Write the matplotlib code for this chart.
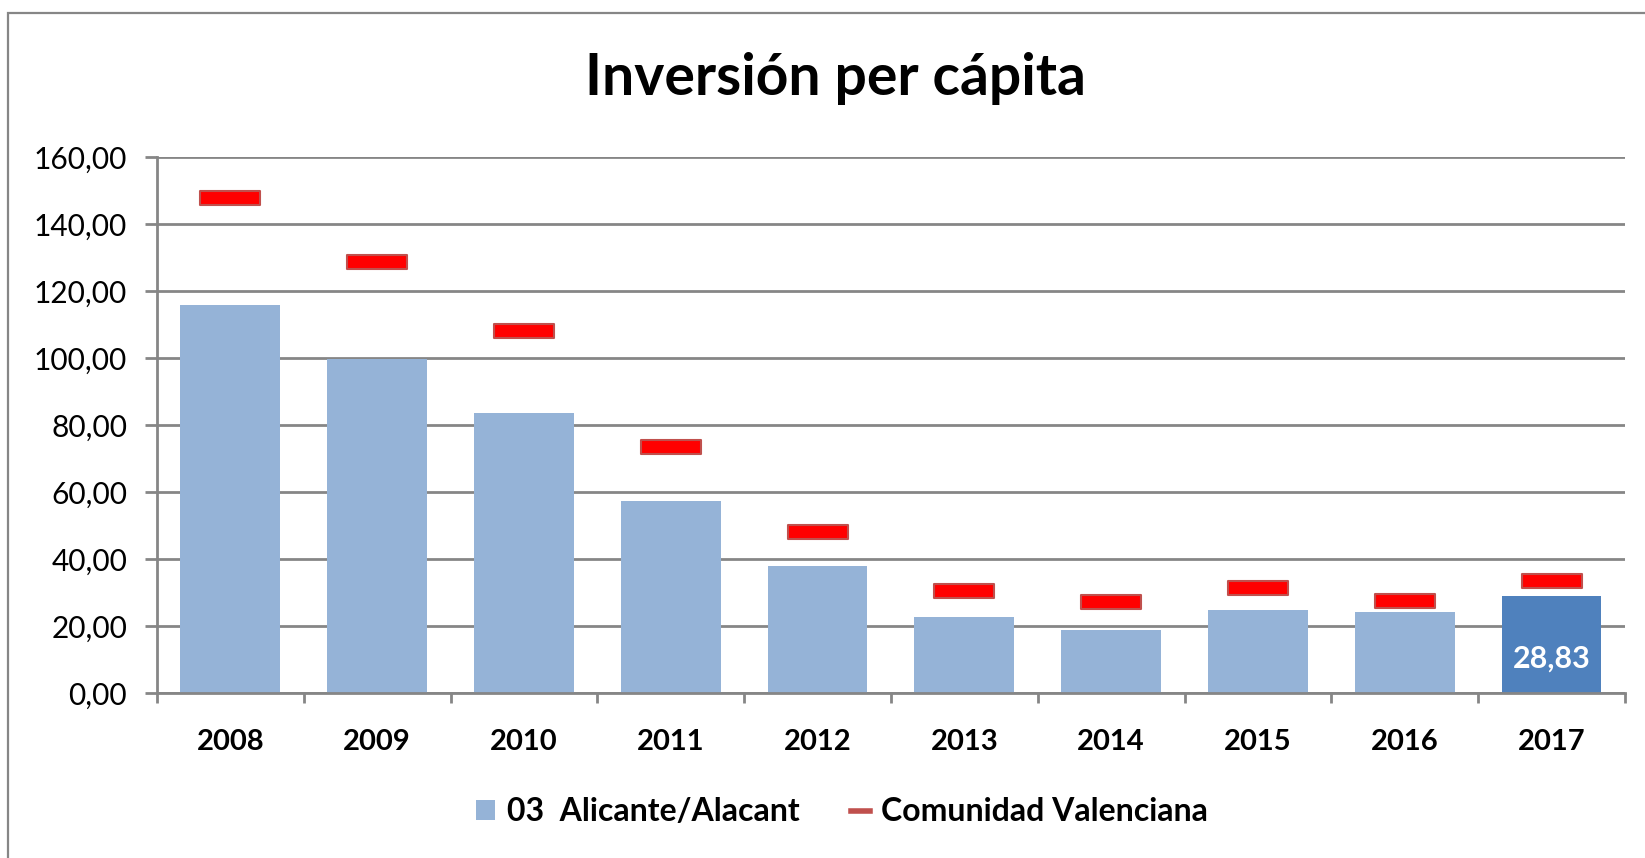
import matplotlib
matplotlib.use('Agg')
from matplotlib import pyplot as plt
from matplotlib.patches import Rectangle
from matplotlib.lines import Line2D
from matplotlib.path import Path

plt.rcParams['font.family'] = ['Lato', 'DejaVu Sans']

# Data
years = ['2008', '2009', '2010', '2011', '2012', '2013', '2014', '2015', '2016', '2017']
alicante = [115.7, 99.6, 83.5, 57.3, 38.0, 22.6, 18.8, 24.9, 24.1, 28.83]
comunidad = [147.9, 128.8, 108.1, 73.5, 48.2, 30.5, 27.3, 31.2, 27.4, 33.5]
yticks = [0, 20, 40, 60, 80, 100, 120, 140, 160]

grey = '#868686'
light_blue = '#95B3D7'
dark_blue = '#4F81BD'

fig = plt.figure(figsize=(16.45, 8.58), dpi=100)
ax = fig.add_axes([0.0954, 0.1923, 0.8924, 0.6247])

# outer chart frame (only left and top edges visible in the reference)
fig.patches.append(Rectangle((0.0049, -0.2), 1.5, 1.185, transform=fig.transFigure,
                             fill=False, edgecolor=grey, linewidth=1.6))

x = list(range(len(years)))
colors = [light_blue] * (len(years) - 1) + [dark_blue]
ax.bar(x, alicante, width=0.68, color=colors, zorder=3)

# red dash markers for the regional average
dash = Path([(-1, -0.23), (1, -0.23), (1, 0.23), (-1, 0.23), (-1, -0.23)],
            [Path.MOVETO, Path.LINETO, Path.LINETO, Path.LINETO, Path.CLOSEPOLY])
ax.plot(x, comunidad, linestyle='none', marker=dash, markersize=43,
        markerfacecolor='#FF0000', markeredgecolor='#C0504D', markeredgewidth=1.5,
        zorder=4)

# value label on the last bar
ax.annotate('28,83', xy=(x[-1], alicante[-1]), xytext=(0, -45), textcoords='offset points',
            ha='center', va='center', color='white', fontsize=22, fontweight='bold', zorder=5)

ax.set_xlim(-0.5, len(years) - 0.5)
ax.set_ylim(0, 160)
ax.set_yticks(yticks)
ax.set_yticklabels(['{:.2f}'.format(v).replace('.', ',') for v in yticks], fontsize=21.5)
ax.set_xticks(x)
ax.set_xticklabels(years, fontsize=21, fontweight='bold')
ax.set_xticks([i - 0.5 for i in range(len(years) + 1)], minor=True)
ax.tick_params(axis='x', which='major', length=0, pad=26)
ax.tick_params(axis='x', which='minor', length=7, width=2, color=grey)
ax.tick_params(axis='y', length=8.5, width=2, color=grey, pad=13)

ax.grid(axis='y', color=grey, linewidth=2, zorder=0)
ax.set_axisbelow(True)
for side in ['top', 'right']:
    ax.spines[side].set_visible(False)
for side in ['left', 'bottom']:
    ax.spines[side].set_color(grey)
    ax.spines[side].set_linewidth(2)
    ax.spines[side].set_zorder(5)

fig.text(0.5076, 0.908, 'Inversión per cápita', ha='center', va='center',
         fontsize=41, fontweight='bold')

handles = [Rectangle((0, 0), 1, 1, facecolor=light_blue),
           Line2D([0], [0], color='#C0504D', linewidth=4)]
leg = fig.legend(handles, ['03  Alicante/Alacant', 'Comunidad Valenciana'],
                 loc='center', bbox_to_anchor=(0.512, 0.054), ncol=2, frameon=False,
                 prop={'size': 23, 'weight': 'bold'}, handlelength=0.6, handleheight=0.56,
                 handletextpad=0.36, columnspacing=1.6)

fig.savefig('out.png', dpi=100)
